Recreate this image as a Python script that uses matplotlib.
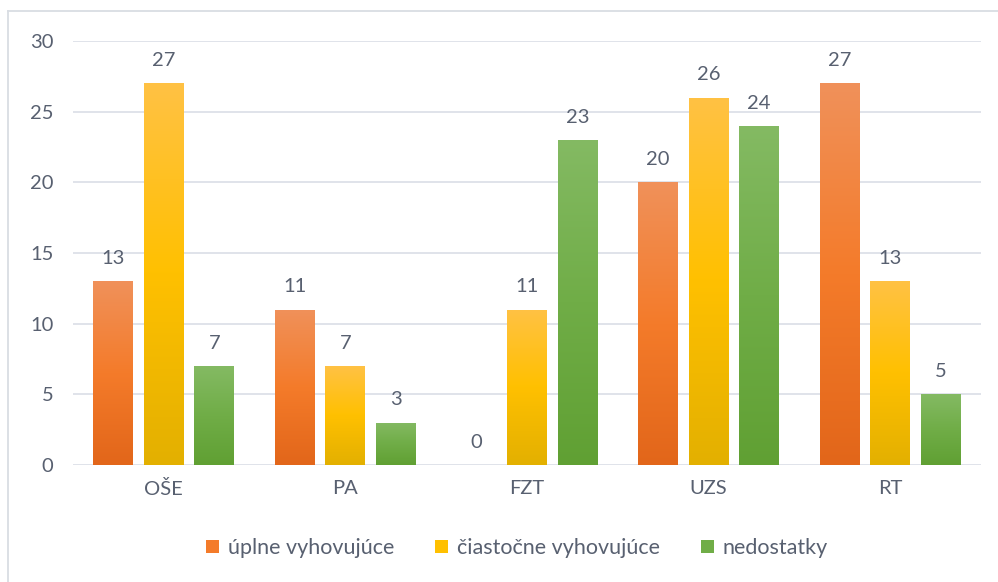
import matplotlib.pyplot as plt
import numpy as np
from matplotlib.colors import LinearSegmentedColormap
from matplotlib.lines import Line2D
from matplotlib.patches import Patch

categories = ['OŠE', 'PA', 'FZT', 'UZS', 'RT']
series_names = ['úplne vyhovujúce', 'čiastočne vyhovujúce', 'nedostatky']
uplne = [13, 11, 0, 20, 27]
ciastocne = [27, 7, 11, 26, 13]
nedostatky = [7, 3, 23, 24, 5]

# gradient stops per series: bottom, middle, top
grads = [
    ['#E2661A', '#F47B2A', '#F0915A'],
    ['#E3B000', '#FFC000', '#FFC244'],
    ['#60A033', '#70AD47', '#84BA63'],
]
solid = ['#F47B2A', '#FFC000', '#70AD47']
text_col = '#586070'
fs = 14.5

plt.rcParams['font.family'] = ['Lato', 'DejaVu Sans']

fig = plt.figure(figsize=(9.98, 5.82), dpi=100)
ax = fig.add_axes([73 / 998, 1 - 465 / 582, 908 / 998, 424 / 582])

x = np.arange(len(categories))
width = 0.22
pitch = 0.278
grad_img = np.linspace(0, 1, 256).reshape(-1, 1)

for i, vals in enumerate([uplne, ciastocne, nedostatky]):
    cmap = LinearSegmentedColormap.from_list('g%d' % i, grads[i])
    bars = ax.bar(x + (i - 1) * pitch, vals, width, color='none',
                  edgecolor='none', zorder=2)
    for b, v in zip(bars, vals):
        if v > 0:
            bx, by = b.get_x(), b.get_y()
            bw, bh = b.get_width(), b.get_height()
            im = ax.imshow(grad_img, cmap=cmap, origin='lower', aspect='auto',
                           extent=[bx, bx + bw, by, by + bh], zorder=2,
                           interpolation='bicubic')
            im.set_clip_path(b)
        ax.text(b.get_x() + b.get_width() / 2, v + 1.0, str(v),
                ha='center', va='bottom', fontsize=fs, color=text_col)

ax.set_xlim(-0.5, len(categories) - 0.5)
ax.set_ylim(0, 30)
ax.set_yticks(range(0, 31, 5))
ax.set_xticks(x)
ax.set_xticklabels(categories)
ax.grid(axis='y', color='#DDE1E8', linewidth=1.3, zorder=0)
ax.set_axisbelow(True)
for s in ax.spines.values():
    s.set_visible(False)
ax.tick_params(length=0, colors=text_col, labelsize=fs)
ax.tick_params(axis='y', pad=14)
ax.tick_params(axis='x', pad=11)

handles = [Patch(facecolor=c, edgecolor='none') for c in solid]
fig.legend(handles, series_names, loc='center', bbox_to_anchor=(517 / 998, 1 - 548 / 582),
           ncol=3, frameon=False, fontsize=15.5, labelcolor=text_col,
           handlelength=0.6, handleheight=0.6, handletextpad=0.4, columnspacing=1.9)

# outer chart border (top and left)
fig.add_artist(Line2D([8 / 998, 1], [1 - 11 / 582] * 2, color='#D9DDE3', lw=1.3))
fig.add_artist(Line2D([8 / 998] * 2, [0, 1 - 11 / 582], color='#D9DDE3', lw=1.3))

fig.savefig('out.png', dpi=100)
